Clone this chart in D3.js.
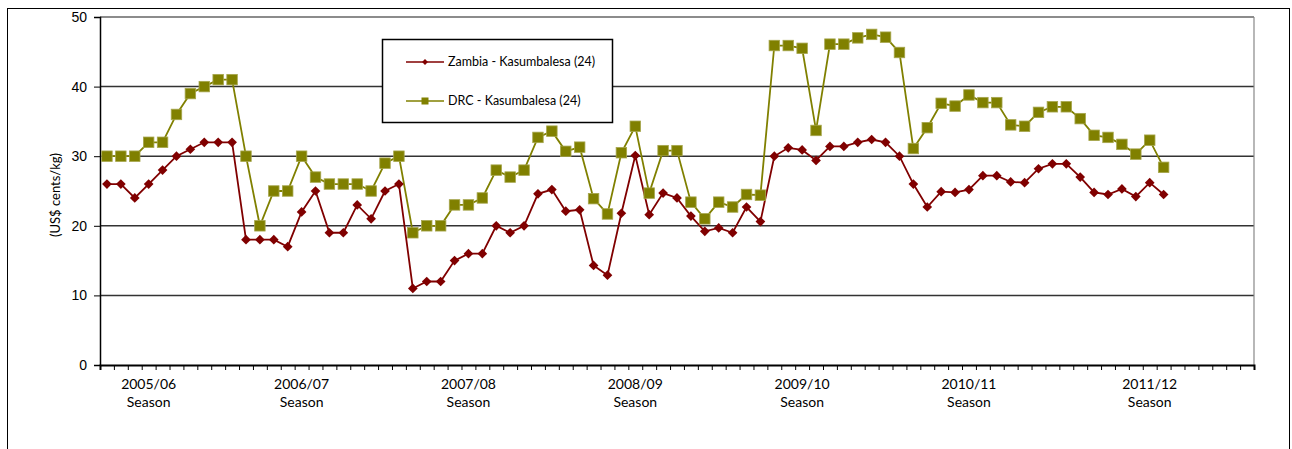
<!DOCTYPE html>
<html>
<head>
<meta charset="utf-8">
<script src="https://cdn.jsdelivr.net/npm/d3@7"></script>
<style>
  body { margin: 0; background: #fff; }
  svg { font-family: Lato, "Open Sans", sans-serif; }
  .axis path, .axis line { stroke: #000; }
  .axis text { font-size: 14px; fill: #000; }
</style>
</head>
<body>
<div id="chart"></div>
<script>
var svgWidth = 1292;
var svgHeight = 449;
var margin = { top: 17, left: 100, right: 38, bottom: 84 };
var width = svgWidth - margin.left - margin.right;
var height = svgHeight - margin.top - margin.bottom;

// 83 monthly slots on the x axis, 77 of them have data
var nSlots = 83;
var zambia = [26, 26, 24, 26, 28, 30, 31, 32, 32, 32, 18, 18, 18, 17, 22, 25, 19, 19, 23, 21,
  25, 26, 11, 12, 12, 15, 16, 16, 20, 19, 20, 24.6, 25.2, 22.1, 22.3, 14.3, 12.9, 21.8, 30.1, 21.6,
  24.7, 24.0, 21.4, 19.2, 19.7, 19.0, 22.7, 20.6, 30.0, 31.2, 30.9, 29.4, 31.4, 31.4, 32.0, 32.4, 32.0, 30.0, 26.0, 22.7,
  24.9, 24.8, 25.2, 27.2, 27.2, 26.3, 26.2, 28.2, 28.9, 28.9, 27.0, 24.8, 24.5, 25.3, 24.2, 26.2, 24.5];
var drc = [30, 30, 30, 32, 32, 36, 39, 40, 41, 41, 30, 20, 25, 25, 30, 27, 26, 26, 26, 25,
  29, 30, 19, 20, 20, 23, 23, 24, 28, 27, 28, 32.7, 33.6, 30.7, 31.3, 23.9, 21.7, 30.5, 34.3, 24.7,
  30.8, 30.8, 23.4, 21, 23.4, 22.7, 24.5, 24.4, 45.9, 45.9, 45.5, 33.7, 46.1, 46.1, 47.0, 47.5, 47.1, 44.9, 31.1, 34.1,
  37.6, 37.2, 38.8, 37.7, 37.7, 34.5, 34.3, 36.3, 37.1, 37.1, 35.4, 33.0, 32.7, 31.7, 30.3, 32.3, 28.4];
var seasons = ["2005/06", "2006/07", "2007/08", "2008/09", "2009/10", "2010/11", "2011/12"];
var seasonSlot = [3, 14, 26, 38, 50, 62, 75];
var yTicks = [0, 10, 20, 30, 40, 50];

var svg = d3.select("#chart").append("svg")
  .attr("width", svgWidth)
  .attr("height", svgHeight);

// outer frame
svg.append("rect")
  .attr("x", 7.5).attr("y", 8.5)
  .attr("width", 1282).attr("height", 460)
  .attr("fill", "none").attr("stroke", "#000").attr("stroke-width", 1);

var chart = svg.append("g")
  .attr("transform", `translate(${margin.left}, ${margin.top})`);

var scaleX = d3.scaleLinear().domain([0, nSlots]).range([0, width]);
var scaleY = d3.scaleLinear().domain([0, 50]).range([height, 0]);

// gridlines
chart.append("g").selectAll("line")
  .data(yTicks.slice(1))
  .enter().append("line")
  .attr("x1", 0).attr("x2", width)
  .attr("y1", d => scaleY(d)).attr("y2", d => scaleY(d))
  .attr("stroke", d => d == 50 ? "#666" : "#333")
  .attr("stroke-width", 1.5);

// right edge of plot area
chart.append("line")
  .attr("x1", width).attr("x2", width)
  .attr("y1", 0).attr("y2", height)
  .attr("stroke", "#888").attr("stroke-width", 1.2);

var yaxis = d3.axisLeft(scaleY).tickValues(yTicks).tickSize(6).tickPadding(7);
chart.append("g").attr("class", "axis").call(yaxis)
  .call(g => g.select(".domain").attr("stroke-width", 1.5));

var xaxis = d3.axisBottom(scaleX).tickValues(d3.range(0, nSlots + 1)).tickSize(5).tickFormat("");
chart.append("g").attr("class", "axis")
  .attr("transform", `translate(0, ${height})`)
  .call(xaxis)
  .call(g => g.select(".domain").attr("stroke-width", 2));

// season labels
var seasonText = chart.append("g").selectAll("text")
  .data(seasons)
  .enter().append("text")
  .attr("x", (d, i) => scaleX(seasonSlot[i] + 0.5))
  .attr("y", height + 24)
  .attr("text-anchor", "middle")
  .style("font-size", "14px");
seasonText.append("tspan").attr("x", (d, i) => scaleX(seasonSlot[i] + 0.5)).text(d => d);
seasonText.append("tspan").attr("x", (d, i) => scaleX(seasonSlot[i] + 0.5)).attr("dy", 18).text("Season");

// y label
svg.append("text")
  .attr("transform", "translate(60, 195) rotate(-90)")
  .attr("text-anchor", "middle")
  .style("font-size", "13px")
  .text("(US$ cents/kg)");

var line = d3.line()
  .x((d, i) => scaleX(i + 0.5))
  .y(d => scaleY(d));

chart.append("path").datum(drc)
  .attr("d", line).attr("fill", "none")
  .attr("stroke", "#808000").attr("stroke-width", 1.8);
chart.append("path").datum(zambia)
  .attr("d", line).attr("fill", "none")
  .attr("stroke", "#800000").attr("stroke-width", 1.8);

var sq = 10.5;
chart.append("g").selectAll("rect")
  .data(drc)
  .enter().append("rect")
  .attr("x", (d, i) => scaleX(i + 0.5) - sq / 2)
  .attr("y", d => scaleY(d) - sq / 2)
  .attr("width", sq).attr("height", sq)
  .attr("fill", "#808000").attr("stroke", "#a6a64d").attr("stroke-width", 0.8);

var diamond = d3.symbol().type(d3.symbolDiamond2).size(60);
chart.append("g").selectAll("path")
  .data(zambia)
  .enter().append("path")
  .attr("d", diamond)
  .attr("transform", (d, i) => `translate(${scaleX(i + 0.5)}, ${scaleY(d)})`)
  .attr("fill", "#800000");

// legend
var legend = svg.append("g");
legend.append("rect")
  .attr("x", 382.5).attr("y", 39.5)
  .attr("width", 230).attr("height", 83)
  .attr("fill", "#fff").attr("stroke", "#000").attr("stroke-width", 1.5);

var legendItems = [
  { name: "Zambia - Kasumbalesa (24)", color: "#800000", y: 62 },
  { name: "DRC - Kasumbalesa (24)", color: "#808000", y: 101 }
];
legendItems.forEach(function(item, k) {
  legend.append("line")
    .attr("x1", 406).attr("x2", 444)
    .attr("y1", item.y).attr("y2", item.y)
    .attr("stroke", item.color).attr("stroke-width", 1.5);
  if (k == 0) {
    legend.append("path")
      .attr("d", d3.symbol().type(d3.symbolDiamond2).size(22))
      .attr("transform", `translate(425, ${item.y})`)
      .attr("fill", item.color);
  } else {
    legend.append("rect")
      .attr("x", 421.5).attr("y", item.y - 3.5)
      .attr("width", 7).attr("height", 7)
      .attr("fill", item.color);
  }
  legend.append("text")
    .attr("x", 448).attr("y", item.y + 4)
    .style("font-size", "12.5px")
    .text(item.name);
});
</script>
</body>
</html>
